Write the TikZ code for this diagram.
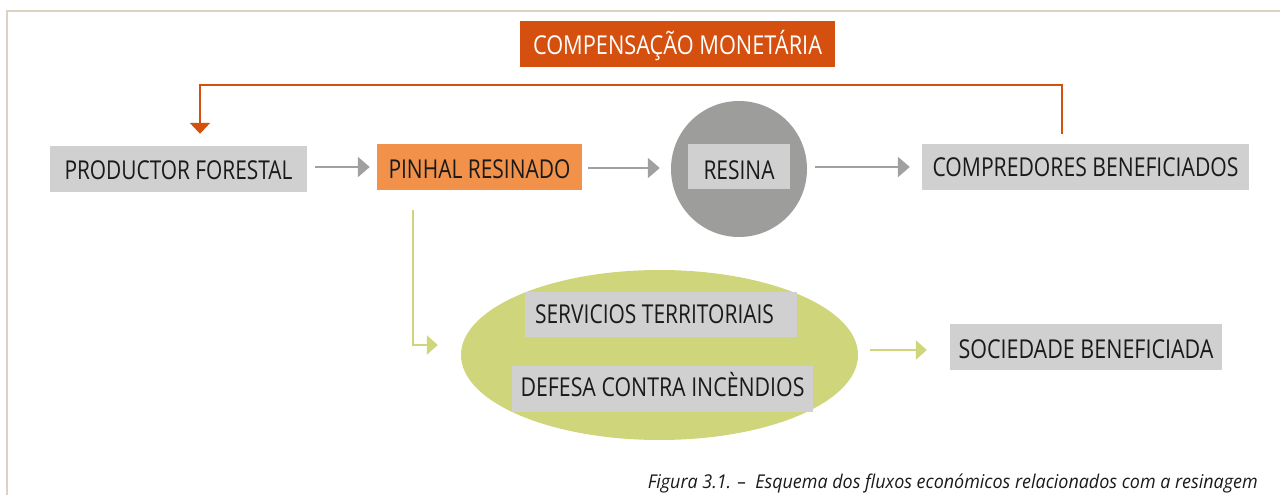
\documentclass[tikz,border=0pt]{standalone}
\usepackage{fontspec}
\setmainfont{Open Sans}
\usepackage{graphicx}
\usetikzlibrary{arrows.meta,shapes.geometric}
\definecolor{framec}{HTML}{DAD3C1}
\definecolor{redor}{HTML}{D54F0E}
\definecolor{boxgray}{HTML}{D0D0D0}
\definecolor{pinhalc}{HTML}{F2924A}
\definecolor{circc}{HTML}{9D9D9C}
\definecolor{ellc}{HTML}{CFD57A}
\definecolor{arrgray}{HTML}{A0A0A0}
\definecolor{txt}{HTML}{1A1A1A}
\newlength\fwlen
\newcommand\fitw[3][0pt]{\settowidth\fwlen{#3}\pgfmathsetmacro\fwratio{#2/\fwlen}\raisebox{#1}{\scalebox{\fwratio}[1]{#3}}}
\begin{document}
\begin{tikzpicture}[x=1pt,y=-1pt,
  box/.style={rectangle, inner sep=0pt, fill=boxgray, text=txt,
    font=\fontsize{26}{30}\selectfont, text height=18.6pt, text depth=0pt},
  grayarrow/.style={draw=arrgray, line width=2.5pt, -{Triangle[length=12pt,width=20pt]}},
  orline/.style={draw=redor, line width=2.5pt, -{Triangle[length=11pt,width=20pt]}},
  garrow/.style={draw=ellc, line width=2.5pt, -{Triangle[length=11pt,width=19pt]}}]
\useasboundingbox (0,0) rectangle (1280,495);
% frame
\coordinate (fa) at (1280,11);
\coordinate (fb) at (7,11);
\coordinate (fc) at (7,495);
\draw[framec, line width=1.5pt] (fa) -- (fb) -- (fc);
% top box
\node[box, fill=redor, text=white, minimum width=315pt, minimum height=46pt] (comp) at (677.5,44) {\fitw[-1.5pt]{289pt}{COMPENSAÇÃO MONETÁRIA}};
% first row
\node[box, minimum width=257pt, minimum height=46pt] (prod) at (178.5,169) {\fitw[-1.5pt]{228pt}{PRODUCTOR FORESTAL}};
\node[box, fill=pinhalc, minimum width=205pt, minimum height=46pt] (pinhal) at (479.5,167) {\fitw[-2pt]{182pt}{PINHAL RESINADO}};
\node[circle, fill=circc, inner sep=0pt, minimum size=136pt] (circ) at (739,169) {};
\node[box, minimum width=102pt, minimum height=45pt] (resina) at (739,166.5) {\fitw[-3.5pt]{71pt}{RESINA}};
\node[box, minimum width=327pt, minimum height=46pt] (compr) at (1085.5,167) {\fitw[-0.5pt]{306pt}{COMPREDORES BENEFICIADOS}};
% second row
\node[ellipse, fill=ellc, inner sep=0pt, minimum width=397pt, minimum height=170pt] (ell) at (659.5,355) {};
\node[box, minimum width=272pt, minimum height=45pt] (serv) at (661,314.5) {\fitw[0.5pt]{239pt}{SERVICIOS TERRITORIAIS}\hspace*{13pt}};
\node[box, minimum width=301pt, minimum height=46pt] (defesa) at (662.5,389) {\fitw[1.5pt]{284pt}{DEFESA CONTRA INCÈNDIOS}};
\node[box, minimum width=272pt, minimum height=46pt] (soc) at (1086,347) {\fitw[-2.5pt]{255pt}{SOCIEDADE BENEFICIADA}};
% caption
\node[anchor=base east, inner sep=0pt, text=txt, font=\fontsize{19}{22}\selectfont\itshape] (cap) at (1258,488) {\fitw{610pt}{Figura 3.1. –~ Esquema dos fluxos económicos relacionados com a resinagem}};
% connectors
\draw[grayarrow, shorten <=8pt, shorten >=7pt] (prod.east |- pinhal) -- (pinhal.west);
\draw[grayarrow, shorten <=6pt, shorten >=11pt] ([yshift=-1pt]pinhal.east) -- ([yshift=-1pt]pinhal.east -| circ.west);
\draw[grayarrow, shorten <=8pt, shorten >=12pt] (circ.east |- compr) -- (compr.west);
\coordinate (o1) at (1062,85);
\coordinate (o2) at (200,85);
\draw[orline, shorten <=10pt, shorten >=12pt] (compr.north -| o1) |- (o2) -- (prod.north -| o2);
\coordinate (gk) at (413,345);
\draw[garrow, shorten <=20pt, shorten >=23pt] (pinhal.south -| gk) |- ([yshift=10pt]ell.west);
\draw[garrow, shorten <=12pt, shorten >=23pt] ([yshift=5pt]ell.east) -- ([yshift=5pt]ell.east -| soc.west);
\end{tikzpicture}
\end{document}
